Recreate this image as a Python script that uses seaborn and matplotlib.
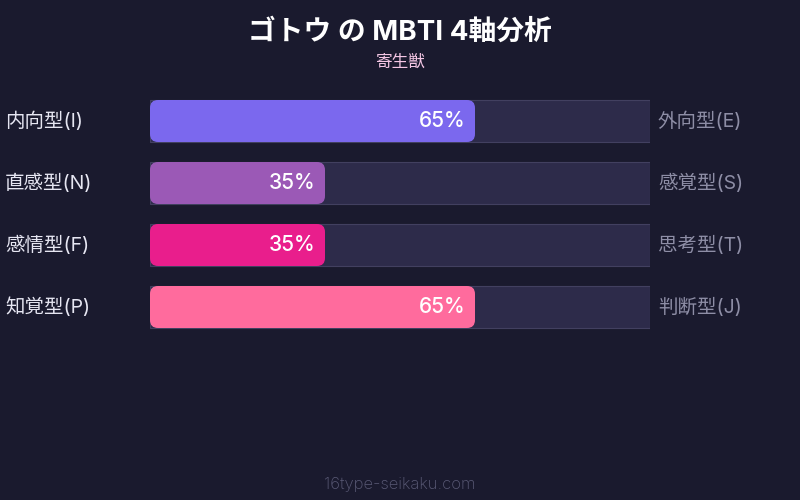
import matplotlib
matplotlib.use("Agg")
import matplotlib.pyplot as plt
import seaborn as sns
from matplotlib.patches import FancyBboxPatch

# data
left_labels = ["内向型(I)", "直感型(N)", "感情型(F)", "知覚型(P)"]
right_labels = ["外向型(E)", "感覚型(S)", "思考型(T)", "判断型(J)"]
scores = [65, 35, 35, 65]
bar_colors = ["#7b68ee", "#9b59b6", "#e91e8c", "#ff6b9d"]
full = [100, 100, 100, 100]

title = "ゴトウ の MBTI 4軸分析"
subtitle = "寄生獣"
footer = "16type-seikaku.com"

bg = "#1a1a2e"
track = "#2d2b4a"

sns.set_theme(style="dark")
plt.rcParams["font.family"] = ["Inter", "Noto Sans CJK JP", "DejaVu Sans"]

fig = plt.figure(figsize=(8, 5), dpi=100, facecolor=bg)
# axes covers bar area: x 150..650 px, y 90..338 px
ax = fig.add_axes([150 / 800, 1 - 338 / 500, 500 / 800, 248 / 500])
ax.set_facecolor(bg)

bar_h = 42 / 62
sns.barplot(x=full, y=left_labels, orient="h", color=track, width=bar_h,
            saturation=1, edgecolor="#424060", linewidth=0.8, ax=ax)
n_track = len(ax.patches)
sns.barplot(x=scores, y=left_labels, hue=left_labels, palette=bar_colors,
            orient="h", width=bar_h, saturation=1, legend=False, ax=ax)

# round the corners of the score bars
aspect = (1 / 62) / (1 / 5)
for p in list(ax.patches[n_track:]):
    x0, y0 = p.get_x(), p.get_y()
    w, h = p.get_width(), p.get_height()
    fc = p.get_facecolor()
    p.remove()
    ax.add_patch(FancyBboxPatch((x0, y0), w, h,
                                boxstyle="round,pad=0,rounding_size=1.6",
                                mutation_aspect=aspect, facecolor=fc,
                                edgecolor="none", zorder=3))

ax.set_xlim(0, 100)
ax.set_ylim(3.5, -0.5)
ax.axis("off")

for i, v in enumerate(scores):
    ax.text(v - 1.8, i, f"{v}%", ha="right", va="center", color="white",
            fontsize=15, fontweight="medium", zorder=4)
    ax.text(-29, i, left_labels[i], ha="left", va="center",
            color="#e6e6f2", fontsize=14)
    ax.text(101.6, i, right_labels[i], ha="left", va="center",
            color="#8e8ea6", fontsize=14)

fig.text(0.5, 1 - 32 / 500, title, ha="center", va="center",
         color="white", fontsize=20, fontweight="bold")
fig.text(0.5, 1 - 62 / 500, subtitle, ha="center", va="center",
         color="#f4c6e4", fontsize=12)
fig.text(0.5, 1 - 484 / 500, footer, ha="center", va="center",
         color="#5a5a76", fontsize=12, fontweight="light")

fig.savefig("out.png", dpi=100, facecolor=bg)
